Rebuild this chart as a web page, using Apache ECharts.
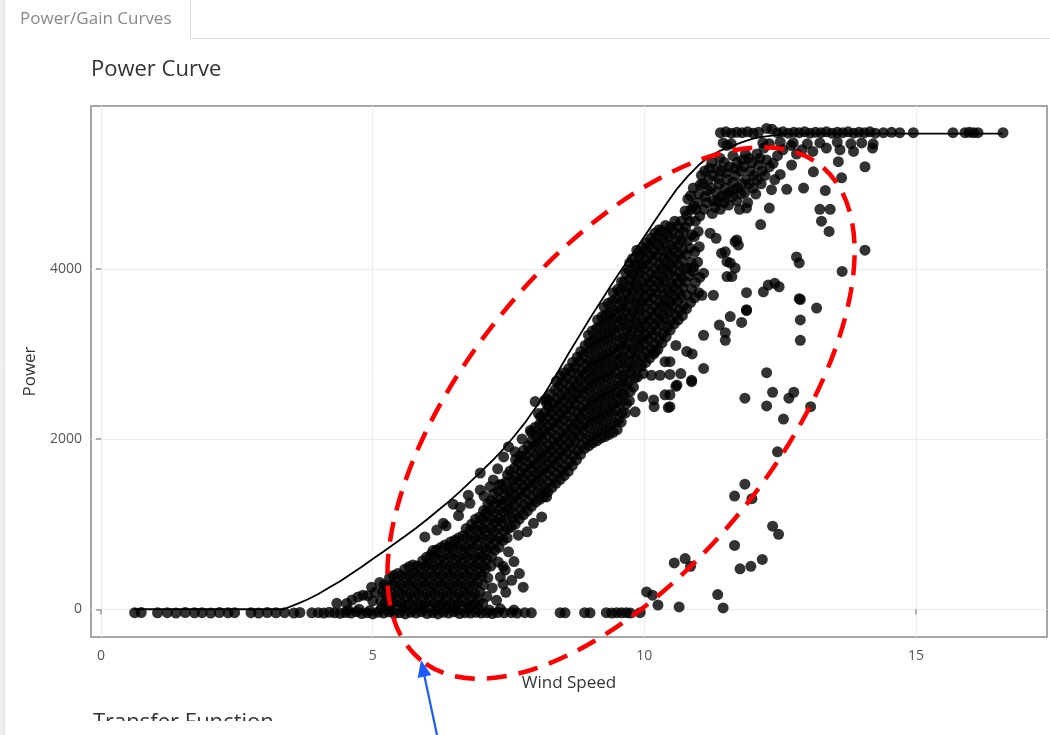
<!DOCTYPE html>
<html>
<head>
<meta charset="utf-8">
<script src="https://cdn.jsdelivr.net/npm/echarts@6/dist/echarts.min.js"></script>
<style>
html,body{margin:0;padding:0;background:#fff;}
#c{width:1050px;height:735px;}
</style>
</head>
<body>
<div id="c"></div>
<script>
// ---- Reference power curve (line) ----
const windLine = [0.6, 3.36, 3.6, 3.8, 4.0, 4.2, 4.4, 4.6, 4.8, 5.0, 5.2, 5.4, 5.6, 5.8, 6.0, 6.2, 6.4, 6.6, 6.8, 7.0, 7.2, 7.4, 7.6, 7.8, 8.0, 8.2, 8.4, 8.6, 8.8, 9.0, 9.2, 9.4, 9.6, 9.8, 10.0, 10.2, 10.4, 10.6, 10.8, 11.0, 11.2, 11.4, 11.6, 11.8, 12.0, 12.2, 12.4, 12.6, 12.8, 16.6];
const powerLine = [0, 0, 60, 115, 180, 255, 330, 415, 500, 590, 680, 770, 860, 955, 1055, 1160, 1265, 1380, 1500, 1620, 1745, 1880, 2030, 2190, 2370, 2570, 2780, 3000, 3210, 3420, 3620, 3820, 4010, 4190, 4380, 4570, 4760, 4940, 5090, 5220, 5320, 5390, 5440, 5490, 5530, 5555, 5570, 5585, 5590, 5590];

// ---- Measured points [wind speed, power] ----
const bottomRow = [[0.62,-40],[0.74,-38],[1.04,-42],[1.22,-40],[1.38,-45],[1.55,-38],[1.72,-42],[1.86,-40],[2.02,-44],[2.18,-38],[2.34,-42],[2.46,-40],[2.76,-40],[2.9,-44],[3.06,-38],[3.22,-42],[3.38,-40],[3.55,-45],[3.66,-38],[3.88,-42],[4.0,-40],[4.1,-45],[4.2,-35],[4.3,-42],[4.4,-48],[4.5,-38],[4.6,-44],[4.7,-30],[4.8,-50],[4.9,-40],[5.0,-55],[5.1,-35],[5.2,-45],[5.3,-30],[5.4,-50],[5.5,-40],[5.6,-55],[5.7,-35],[5.8,-45],[5.9,-30],[6.0,-50],[6.1,-40],[6.2,-55],[6.3,-35],[6.4,-45],[6.5,-30],[6.6,-50],[6.7,-40],[6.8,-45],[6.9,-35],[7.0,-45],[7.1,-40],[7.2,-50],[7.3,-38],[7.42,-42],[7.55,-40],[7.66,-44],[7.8,-40],[7.92,-42],[8.45,-40],[8.54,-42],[8.9,-40],[9.0,-42],[9.3,-40],[9.4,-44],[9.49,-40],[9.58,-42],[9.67,-40],[9.74,-44],[9.92,-40],
  [4.55,-10],[4.75,0],[4.95,-15],[5.15,5],[5.35,-10],[5.55,10],[5.75,-5],[5.95,10],[6.15,-10],[6.35,5],[6.55,-5],[6.75,10],[6.95,0],[7.15,-10],[7.35,5],[7.6,-10]];

const toe = [[4.34,70],[4.52,67],[4.62,110],[4.73,145],[4.82,165],[4.91,160],[4.98,260],[5.05,200],[5.0,100]];

const band = [
  [5.15,95],[5.18,205],[5.13,315],
  [5.3,40],[5.32,150],[5.28,260],[5.31,370],
  [5.45,95],[5.47,205],[5.43,315],[5.46,420],
  [5.6,40],[5.62,150],[5.58,260],[5.61,370],[5.59,470],
  [5.75,95],[5.77,205],[5.73,315],[5.76,425],[5.74,520],
  [5.9,40],[5.92,150],[5.88,260],[5.91,370],[5.89,480],[5.92,570],
  [6.05,95],[6.07,205],[6.03,315],[6.06,425],[6.04,535],[6.07,640],
  [6.2,40],[6.22,150],[6.18,260],[6.21,370],[6.19,480],[6.22,590],[6.18,700],
  [6.35,95],[6.37,205],[6.33,315],[6.36,425],[6.34,535],[6.37,645],[6.33,755],
  [6.5,40],[6.52,150],[6.48,260],[6.51,370],[6.49,480],[6.52,590],[6.48,700],[6.51,810],
  [6.65,95],[6.67,205],[6.63,315],[6.66,425],[6.64,535],[6.67,645],[6.63,755],[6.66,865],
  [6.8,40],[6.82,150],[6.78,260],[6.81,370],[6.79,480],[6.82,590],[6.78,700],[6.81,810],[6.79,920],[6.82,1000],
  [6.95,95],[6.97,205],[6.93,315],[6.96,425],[6.94,535],[6.97,645],[6.93,755],[6.96,865],[6.94,975],[6.97,1085],
  [7.1,150],[7.12,370],[7.08,480],[7.11,590],[7.09,700],[7.12,810],[7.08,920],[7.11,1030],[7.09,1140],[7.12,1240],
  [7.25,695],[7.27,805],[7.23,915],[7.26,1025],[7.24,1135],[7.27,1245],[7.23,1355],
  [7.4,810],[7.42,920],[7.38,1030],[7.41,1140],[7.39,1250],[7.42,1360],[7.38,1470],
  [7.55,965],[7.57,1075],[7.53,1185],[7.56,1295],[7.54,1405],[7.57,1515],[7.53,1625],
  [7.7,1060],[7.72,1170],[7.68,1280],[7.71,1390],[7.69,1500],[7.72,1610],[7.68,1720],[7.71,1800],
  [7.85,1155],[7.87,1265],[7.83,1375],[7.86,1485],[7.84,1595],[7.87,1705],[7.83,1815],[7.86,1920],
  [8.0,1260],[8.02,1370],[7.98,1480],[8.01,1590],[7.99,1700],[8.02,1810],[7.98,1920],[8.01,2030],[7.99,2140],
  [8.15,1325],[8.17,1435],[8.13,1545],[8.16,1655],[8.14,1765],[8.17,1875],[8.13,1985],[8.16,2095],[8.14,2205],[8.17,2315],
  [8.3,1430],[8.32,1540],[8.28,1650],[8.31,1760],[8.29,1870],[8.32,1980],[8.28,2090],[8.31,2200],[8.29,2310],[8.32,2420],[8.28,2530],
  [8.45,1525],[8.47,1635],[8.43,1745],[8.46,1855],[8.44,1965],[8.47,2075],[8.43,2185],[8.46,2295],[8.44,2405],[8.47,2515],[8.43,2625],[8.46,2740],
  [8.6,1620],[8.62,1730],[8.58,1840],[8.61,1950],[8.59,2060],[8.62,2170],[8.58,2280],[8.61,2390],[8.59,2500],[8.62,2610],[8.58,2720],[8.61,2830],
  [8.75,1755],[8.77,1865],[8.73,1975],[8.76,2085],[8.74,2195],[8.77,2305],[8.73,2415],[8.76,2525],[8.74,2635],[8.77,2745],[8.73,2855],[8.76,2960],
  [8.9,1890],[8.92,2000],[8.88,2110],[8.91,2220],[8.89,2330],[8.92,2440],[8.88,2550],[8.91,2660],[8.89,2770],[8.92,2880],[8.88,2990],[8.91,3100],
  [9.05,1955],[9.07,2065],[9.03,2175],[9.06,2285],[9.04,2395],[9.07,2505],[9.03,2615],[9.06,2725],[9.04,2835],[9.07,2945],[9.03,3055],[9.06,3165],[9.04,3270],
  [9.2,2010],[9.22,2120],[9.18,2230],[9.21,2340],[9.19,2450],[9.22,2560],[9.18,2670],[9.21,2780],[9.19,2890],[9.22,3000],[9.18,3110],[9.21,3220],[9.19,3330],[9.22,3440],
  [9.35,2055],[9.37,2165],[9.33,2275],[9.36,2385],[9.34,2495],[9.37,2605],[9.33,2715],[9.36,2825],[9.34,2935],[9.37,3045],[9.33,3155],[9.36,3265],[9.34,3375],[9.37,3485],[9.33,3595],
  [9.5,2110],[9.52,2220],[9.48,2330],[9.51,2440],[9.49,2550],[9.52,2660],[9.48,2770],[9.51,2880],[9.49,2990],[9.52,3100],[9.48,3210],[9.51,3320],[9.49,3430],[9.52,3540],[9.48,3650],[9.51,3760],
  [9.65,2305],[9.67,2415],[9.63,2525],[9.66,2635],[9.64,2745],[9.67,2855],[9.63,2965],[9.66,3075],[9.64,3185],[9.67,3295],[9.63,3405],[9.66,3515],[9.64,3625],[9.67,3735],[9.63,3845],[9.66,3950],
  [9.8,2610],[9.82,2720],[9.78,2830],[9.81,2940],[9.79,3050],[9.82,3160],[9.78,3270],[9.81,3380],[9.79,3490],[9.82,3600],[9.78,3710],[9.81,3820],[9.79,3930],[9.82,4040],[9.78,4120],
  [9.95,2855],[9.97,2965],[9.93,3075],[9.96,3185],[9.94,3295],[9.97,3405],[9.93,3515],[9.96,3625],[9.94,3735],[9.97,3845],[9.93,3955],[9.96,4065],[9.94,4175],[9.97,4250],
  [10.1,2950],[10.12,3060],[10.08,3170],[10.11,3280],[10.09,3390],[10.12,3500],[10.08,3610],[10.11,3720],[10.09,3830],[10.12,3940],[10.08,4050],[10.11,4160],[10.09,4270],[10.12,4360],
  [10.25,3055],[10.27,3165],[10.23,3275],[10.26,3385],[10.24,3495],[10.27,3605],[10.23,3715],[10.26,3825],[10.24,3935],[10.27,4045],[10.23,4155],[10.26,4265],[10.24,4375],[10.27,4460],
  [10.4,3200],[10.42,3310],[10.38,3420],[10.41,3530],[10.39,3640],[10.42,3750],[10.38,3860],[10.41,3970],[10.39,4080],[10.42,4190],[10.38,4300],[10.41,4410],[10.39,4510],
  [10.55,3355],[10.57,3465],[10.53,3575],[10.56,3685],[10.54,3795],[10.57,3905],[10.53,4015],[10.56,4125],[10.54,4235],[10.57,4345],[10.53,4455],[10.56,4560],
  [10.7,3450],[10.72,3560],[10.68,3670],[10.71,3780],[10.69,3890],[10.72,4000],[10.68,4110],[10.71,4220],[10.69,4330],[10.72,4440],[10.68,4560],
  [10.85,3605],[10.87,3760],[10.83,3920],[10.86,4080],[10.84,4240],[10.87,4400],[10.83,4560],[10.86,4700],
  [11.0,3720],[11.02,3900],[10.98,4080],[11.01,4260],[10.99,4440],[11.02,4620],[10.98,4780]
];

const bandMid = [
  [5.225,68],[5.24,178],[5.21,288],
  [5.375,68],[5.39,178],[5.36,288],[5.38,398],
  [5.525,68],[5.54,178],[5.51,288],[5.53,398],
  [5.675,68],[5.69,178],[5.66,288],[5.68,398],[5.67,500],
  [5.825,68],[5.84,178],[5.81,288],[5.83,398],[5.82,508],
  [5.975,68],[5.99,178],[5.96,288],[5.98,398],[5.97,508],[5.99,610],
  [6.125,68],[6.14,178],[6.11,288],[6.13,398],[6.12,508],[6.14,618],[6.11,690],
  [6.275,68],[6.29,178],[6.26,288],[6.28,398],[6.27,508],[6.29,618],[6.26,728],
  [6.425,68],[6.44,178],[6.41,288],[6.43,398],[6.42,508],[6.44,618],[6.41,728],[6.43,790],
  [6.575,68],[6.59,178],[6.56,288],[6.58,398],[6.57,508],[6.59,618],[6.56,728],[6.58,838],
  [6.725,68],[6.74,178],[6.71,288],[6.73,398],[6.72,508],[6.74,618],[6.71,728],[6.73,838],[6.72,948],
  [6.875,68],[6.89,178],[6.86,288],[6.88,398],[6.87,508],[6.89,618],[6.86,728],[6.88,838],[6.87,948],[6.89,1058],
  [7.025,68],[7.04,288],[7.01,398],[7.03,508],[7.02,618],[7.04,728],[7.01,838],[7.03,948],[7.02,1058],[7.04,1160],
  [7.175,508],[7.19,618],[7.16,728],[7.18,838],[7.17,948],[7.19,1058],[7.16,1168],[7.18,1278],
  [7.325,728],[7.34,838],[7.31,948],[7.33,1058],[7.32,1168],[7.34,1278],[7.31,1388],[7.33,1460],
  [7.475,838],[7.49,948],[7.46,1058],[7.48,1168],[7.47,1278],[7.49,1388],[7.46,1498],[7.48,1580],
  [7.625,1000],[7.64,1110],[7.61,1220],[7.63,1330],[7.62,1440],[7.64,1550],[7.61,1660],[7.63,1760],
  [7.775,1110],[7.79,1220],[7.76,1330],[7.78,1440],[7.77,1550],[7.79,1660],[7.76,1770],[7.78,1870],
  [7.925,1210],[7.94,1320],[7.91,1430],[7.93,1540],[7.92,1650],[7.94,1760],[7.91,1870],[7.93,1980],[7.92,2080],
  [8.075,1290],[8.09,1400],[8.06,1510],[8.08,1620],[8.07,1730],[8.09,1840],[8.06,1950],[8.08,2060],[8.07,2170],[8.09,2260],
  [8.225,1380],[8.24,1490],[8.21,1600],[8.23,1710],[8.22,1820],[8.24,1930],[8.21,2040],[8.23,2150],[8.22,2260],[8.24,2370],[8.21,2470],
  [8.375,1480],[8.39,1590],[8.36,1700],[8.38,1810],[8.37,1920],[8.39,2030],[8.36,2140],[8.38,2250],[8.37,2360],[8.39,2470],[8.36,2580],[8.38,2680],
  [8.525,1570],[8.54,1680],[8.51,1790],[8.53,1900],[8.52,2010],[8.54,2120],[8.51,2230],[8.53,2340],[8.52,2450],[8.54,2560],[8.51,2670],[8.53,2780],
  [8.675,1690],[8.69,1800],[8.66,1910],[8.68,2020],[8.67,2130],[8.69,2240],[8.66,2350],[8.68,2460],[8.67,2570],[8.69,2680],[8.66,2790],[8.68,2900],
  [8.825,1820],[8.84,1930],[8.81,2040],[8.83,2150],[8.82,2260],[8.84,2370],[8.81,2480],[8.83,2590],[8.82,2700],[8.84,2810],[8.81,2920],[8.83,3030],
  [8.975,1920],[8.99,2030],[8.96,2140],[8.98,2250],[8.97,2360],[8.99,2470],[8.96,2580],[8.98,2690],[8.97,2800],[8.99,2910],[8.96,3020],[8.98,3130],[8.97,3220],
  [9.125,1980],[9.14,2090],[9.11,2200],[9.13,2310],[9.12,2420],[9.14,2530],[9.11,2640],[9.13,2750],[9.12,2860],[9.14,2970],[9.11,3080],[9.13,3190],[9.12,3300],[9.14,3400],
  [9.275,2030],[9.29,2140],[9.26,2250],[9.28,2360],[9.27,2470],[9.29,2580],[9.26,2690],[9.28,2800],[9.27,2910],[9.29,3020],[9.26,3130],[9.28,3240],[9.27,3350],[9.29,3460],[9.26,3550],
  [9.425,2080],[9.44,2190],[9.41,2300],[9.43,2410],[9.42,2520],[9.44,2630],[9.41,2740],[9.43,2850],[9.42,2960],[9.44,3070],[9.41,3180],[9.43,3290],[9.42,3400],[9.44,3510],[9.41,3620],[9.43,3720],
  [9.575,2200],[9.59,2310],[9.56,2420],[9.58,2530],[9.57,2640],[9.59,2750],[9.56,2860],[9.58,2970],[9.57,3080],[9.59,3190],[9.56,3300],[9.58,3410],[9.57,3520],[9.59,3630],[9.56,3740],[9.58,3850],
  [9.725,2450],[9.74,2560],[9.71,2670],[9.73,2780],[9.72,2890],[9.74,3000],[9.71,3110],[9.73,3220],[9.72,3330],[9.74,3440],[9.71,3550],[9.73,3660],[9.72,3770],[9.74,3880],[9.71,3990],[9.73,4070],
  [9.875,2730],[9.89,2840],[9.86,2950],[9.88,3060],[9.87,3170],[9.89,3280],[9.86,3390],[9.88,3500],[9.87,3610],[9.89,3720],[9.86,3830],[9.88,3940],[9.87,4050],[9.89,4160],[9.86,4220],
  [10.025,2900],[10.04,3010],[10.01,3120],[10.03,3230],[10.02,3340],[10.04,3450],[10.01,3560],[10.03,3670],[10.02,3780],[10.04,3890],[10.01,4000],[10.03,4110],[10.02,4220],[10.04,4310],
  [10.175,3000],[10.19,3110],[10.16,3220],[10.18,3330],[10.17,3440],[10.19,3550],[10.16,3660],[10.18,3770],[10.17,3880],[10.19,3990],[10.16,4100],[10.18,4210],[10.17,4320],[10.19,4420],
  [10.325,3130],[10.34,3240],[10.31,3350],[10.33,3460],[10.32,3570],[10.34,3680],[10.31,3790],[10.33,3900],[10.32,4010],[10.34,4120],[10.31,4230],[10.33,4340],[10.32,4450],
  [10.475,3280],[10.49,3390],[10.46,3500],[10.48,3610],[10.47,3720],[10.49,3830],[10.46,3940],[10.48,4050],[10.47,4160],[10.49,4270],[10.46,4380],[10.48,4490],
  [10.625,3400],[10.64,3510],[10.61,3620],[10.63,3730],[10.62,3840],[10.64,3950],[10.61,4060],[10.63,4170],[10.62,4280],[10.64,4390],[10.61,4500],
  [10.775,3530],[10.79,3690],[10.76,3850],[10.78,4010],[10.77,4170],[10.79,4330],[10.76,4490],[10.78,4630],
  [10.925,3660],[10.94,3840],[10.91,4020],[10.93,4200],[10.92,4380],[10.94,4560],[10.91,4740]
];

const leftSparse = [[5.96,850],[6.18,930],[6.3,1010],[6.48,1235],[6.61,1200],[6.76,1340],[6.79,1245],[6.98,1600],[6.98,1400],[7.16,1440],[7.22,1520],[7.5,1910],[7.41,1790],[7.99,2440],[8.17,2460],[6.58,1100],[6.35,980],[7.05,1330],[7.3,1650],[7.62,1850],[7.75,2000],[7.9,2100],[8.05,2300],[8.2,2420]];

const belowSparse = [[8.2,1320],[8.11,1085],[7.96,1010],[7.84,910],[7.68,870],[7.4,295],[7.56,340],[7.77,260],[7.31,555],[7.44,460],[7.28,105],[7.5,675],[7.4,505],[7.35,380],[7.6,560],[7.2,250],[7.45,200],[7.7,420]];

const midSparse = [[9.98,2770],[9.97,2500],[10.17,2460],[10.18,2380],[10.47,2380],[10.38,2520],[10.47,2520],[10.58,2620],[10.29,2750],[10.13,2750],[10.47,2760],[10.67,2770],[10.87,2690],[11.09,2830],[10.88,3000],[10.78,3030],[10.58,3100],[11.09,3220],[11.38,3340],[11.49,3250],[11.49,3160],[11.58,3440],[11.79,3370],[11.88,3520],[10.2,3030],[10.38,2910],[10.47,2910],[10.6,2635],[10.87,2675],[10.44,2370],[9.83,2320]];

const upperSparse = [[11.27,3690],[11.06,3690],[11.09,3950],[10.9,3970],[11.52,3910],[11.61,3910],[11.67,4010],[11.58,4070],[11.52,4085],[11.49,4200],[11.42,4185],[11.73,4280],[11.7,4340],[11.67,4320],[11.32,4360],[11.21,4420],[11.88,3720],[11.88,3510],[12.19,3730],[12.28,3810],[12.4,3830],[12.48,3790],[12.85,3650],[13.17,3540],[12.87,3640],[12.87,3400],[12.87,3160],[12.14,4520],[11.88,4715],[12.3,4715],[13.23,4700],[13.42,4700],[13.26,4560],[13.4,4440],[14.06,4220],[13.64,3970],[12.8,4140],[12.85,4070],[12.62,4935],[12.93,4950],[13.33,4920],[12.71,5220],[13.11,5140],[13.57,5260],[13.63,5070],[14.06,5200],[12.34,4930],[12.4,5050],[12.5,5110],[12.37,5240]];

const upperCluster = [[11.1,4700],[11.12,4850],[11.08,5000],[11.11,5150],[11.25,4650],[11.27,4800],[11.23,4950],[11.26,5100],[11.24,5250],[11.4,4700],[11.42,4850],[11.38,5000],[11.41,5150],[11.39,5300],[11.55,4750],[11.57,4900],[11.53,5050],[11.56,5200],[11.7,4800],[11.72,4950],[11.68,5100],[11.71,5250],[11.85,4900],[11.87,5050],[11.83,5200],[11.86,5350],[12.0,4950],[12.02,5100],[11.98,5250],[12.15,5000],[12.17,5150],[12.13,5300],[12.3,5200],[12.45,5330],[12.55,5400],[12.8,5350],
  [10.75,4680],[10.8,4820],[10.9,4950],[10.95,4700],[11.0,4880],[11.05,5100],[11.15,4780],[11.18,5050],[11.3,4720],[11.32,4900],[11.33,5180],[11.47,4780],[11.48,4950],[11.47,5250],[11.62,4850],[11.63,5020],[11.63,5330],[11.78,4880],[11.77,5150],[11.93,5000],[11.92,5300],[12.08,5050],[12.07,5350],[12.22,5100],[12.2,5420],
  [10.85,4860],[11.03,4990],[11.17,4920],[11.2,5180],[11.35,4800],[11.36,5060],[11.5,4870],[11.5,5130],[11.65,4930],[11.66,5180],[11.8,5000],[11.8,5280],[11.95,5150],[12.1,5220],[12.25,5280],[12.05,4880],[11.9,4780],[11.75,4700]];

const rightLow = [[12.25,2780],[12.36,2550],[12.75,2550],[12.66,2480],[11.85,2480],[12.25,2390],[13.06,2380],[12.56,2235],[12.45,1850],[11.85,1470],[11.66,1330],[11.98,1300],[12.36,976],[12.47,880],[11.66,750],[11.76,475],[11.96,505],[12.17,585],[10.55,545],[10.75,596],[10.85,505],[10.04,204],[10.15,165],[10.25,50],[10.64,27],[11.35,173],[11.45,15]];

const ratedRow = [[11.4,5600],[11.5,5610],[11.6,5595],[11.7,5605],[11.8,5600],[11.9,5610],[12.0,5595],[12.1,5605],[12.25,5650],[12.35,5640],[12.45,5600],[12.55,5610],[12.65,5595],[12.75,5605],[12.85,5600],[12.95,5610],[13.05,5595],[13.15,5605],[13.25,5600],[13.35,5610],[13.45,5595],[13.55,5605],[13.65,5600],[13.75,5610],[13.85,5595],[13.95,5605],[14.05,5600],[14.15,5610],[14.25,5595],[14.4,5600],[14.55,5605],[14.7,5600],[14.95,5600],[15.68,5600],[15.9,5600],[15.98,5605],[16.06,5600],[16.14,5600],[16.6,5600],
  [11.45,5480],[11.6,5470],[12.18,5480],[12.5,5490],[12.74,5480],[13.0,5470],[13.23,5480],[13.55,5490],[13.8,5470],[14.0,5480],[14.21,5470],[12.9,5400],[13.1,5380],[13.35,5420],[13.6,5400],[13.85,5380],[14.2,5420],[12.7,5450],[11.52,5450],[12.3,5470]];

const xTicks = [0, 5, 10, 15];
const yTicks = [0, 2000, 4000];

const points = [].concat(bottomRow, toe, band, bandMid, leftSparse, belowSparse, midSparse, upperSparse, upperCluster, rightLow, ratedRow);
const linePts = windLine.map((w, i) => [w, powerLine[i]]);

const FONT = '"Open Sans", "Noto Sans", sans-serif';
const chart = echarts.init(document.getElementById('c'), null, {renderer: 'canvas'});

const option = {
  animation: false,
  backgroundColor: '#ffffff',
  textStyle: {fontFamily: FONT},
  grid: {left: 91, top: 106, right: 3, bottom: 98, show: true, borderColor: '#a6a6a6', borderWidth: 2, backgroundColor: 'transparent'},
  xAxis: {
    type: 'value', min: -0.184, max: 17.41,
    name: 'Wind Speed', nameLocation: 'middle', nameGap: 38,
    nameTextStyle: {fontSize: 17, color: '#333', fontFamily: FONT},
    axisLine: {show: false},
    axisTick: {show: true, length: 5, lineStyle: {color: '#999', width: 1.5}, customValues: xTicks},
    axisLabel: {customValues: xTicks, fontSize: 14, color: '#555', margin: 12, formatter: v => String(v)},
    splitLine: {show: true, lineStyle: {color: '#ebebeb', width: 1}}
  },
  yAxis: {
    type: 'value', min: -326, max: 5914,
    name: 'Power', nameLocation: 'middle', nameGap: 50, nameRotate: 90,
    nameTextStyle: {fontSize: 17, color: '#333', fontFamily: FONT},
    axisLine: {show: false},
    axisTick: {show: true, length: 5, lineStyle: {color: '#999', width: 1.5}, customValues: yTicks},
    axisLabel: {customValues: yTicks, fontSize: 14, color: '#555', margin: 9, formatter: v => String(v)},
    splitLine: {show: true, lineStyle: {color: '#ebebeb', width: 1}}
  },
  series: [
    {
      type: 'line', data: linePts, showSymbol: false, smooth: false,
      lineStyle: {color: '#000', width: 1.8}, z: 2
    },
    {
      type: 'scatter', data: points, symbolSize: 11,
      itemStyle: {color: '#000', opacity: 0.8}, z: 3
    }
  ],
  graphic: [
    {type: 'rect', shape: {x: 0, y: 0, width: 4, height: 735}, style: {fill: '#f0f0f0'}, z: 50},
    {type: 'line', shape: {x1: 4.5, y1: 0, x2: 4.5, y2: 735}, style: {stroke: '#e0e0e0', lineWidth: 1}, z: 50},
    {type: 'line', shape: {x1: 190.5, y1: 0, x2: 190.5, y2: 38.5}, style: {stroke: '#dddddd', lineWidth: 1}, z: 50},
    {type: 'line', shape: {x1: 190.5, y1: 38.5, x2: 1050, y2: 38.5}, style: {stroke: '#dddddd', lineWidth: 1}, z: 50},
    {type: 'text', x: 20, y: 19, style: {text: 'Power/Gain Curves', font: '17px ' + FONT, fill: '#888', verticalAlign: 'middle'}, z: 50},
    {type: 'text', x: 91, y: 70, style: {text: 'Power Curve', font: '22px ' + FONT, fill: '#333', verticalAlign: 'middle'}, z: 50},
    {type: 'text', x: 93, y: 723, style: {text: 'Transfer Function', font: '22px ' + FONT, fill: '#333', verticalAlign: 'middle'}, z: 50},
    {type: 'rect', shape: {x: 80, y: 721, width: 300, height: 14}, style: {fill: '#ffffff'}, z: 51},
    {type: 'ellipse', x: 621, y: 413, rotation: 51 * Math.PI / 180,
      shape: {cx: 0, cy: 0, rx: 318, ry: 155},
      style: {fill: 'none', stroke: '#ff0000', lineWidth: 4.5, lineDash: [20, 12]}, z: 100},
    {type: 'line', shape: {x1: 437, y1: 735, x2: 424, y2: 674}, style: {stroke: '#1a5cff', lineWidth: 2.2}, z: 100},
    {type: 'polygon', shape: {points: [[421, 660], [431.4, 675.1], [417.7, 678.1]]}, style: {fill: '#1a5cff'}, z: 100}
  ]
};
chart.setOption(option);
</script>
</body>
</html>
